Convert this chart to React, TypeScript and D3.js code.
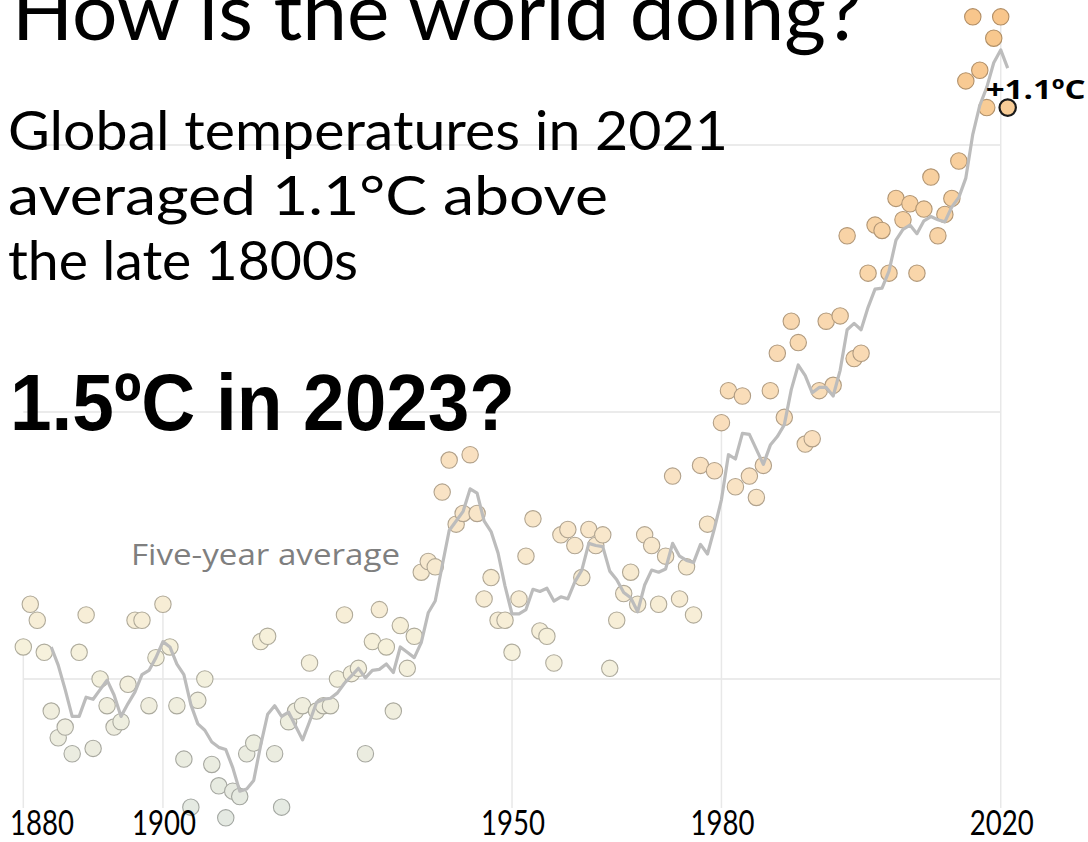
import React from "react";
import * as d3 from "d3";

// Annual global temperature, °C relative to the late 1800s, one value per year from firstYear
const firstYear = 1880;
const anomalies: number[] = [
  0.06, 0.14, 0.11, 0.05, -0.06, -0.11, -0.09, -0.14, 0.05, 0.12,
  -0.13, 0.0, -0.05, -0.09, -0.08, -0.01, 0.11, 0.11, -0.05, 0.04,
  0.14, 0.06, -0.05, -0.15, -0.24, -0.04, 0.0, -0.16, -0.2, -0.26,
  -0.21, -0.22, -0.14, -0.12, 0.07, 0.08, -0.14, -0.24, -0.08, -0.06,
  -0.05, 0.03, -0.06, -0.05, -0.05, 0.0, 0.12, 0.01, 0.02, -0.14,
  0.07, 0.13, 0.06, -0.06, 0.1, 0.02, 0.08, 0.2, 0.22, 0.21,
  0.35, 0.41, 0.29, 0.31, 0.42, 0.31, 0.15, 0.19, 0.11, 0.11,
  0.05, 0.15, 0.23, 0.3, 0.09, 0.08, 0.03, 0.27, 0.28, 0.25,
  0.19, 0.28, 0.25, 0.27, 0.02, 0.11, 0.16, 0.2, 0.14, 0.27,
  0.25, 0.14, 0.23, 0.38, 0.15, 0.21, 0.12, 0.4, 0.29, 0.39,
  0.48, 0.54, 0.36, 0.53, 0.38, 0.34, 0.4, 0.54, 0.61, 0.49,
  0.67, 0.63, 0.44, 0.45, 0.54, 0.67, 0.55, 0.68, 0.83, 0.6,
  0.61, 0.76, 0.85, 0.84, 0.76, 0.9, 0.86, 0.89, 0.76, 0.88,
  0.94, 0.83, 0.87, 0.9, 0.97, 1.12, 1.24, 1.14, 1.07, 1.2,
  1.24, 1.07,
];

const tickYears = [1880, 1900, 1950, 1980, 2020];
const gridValues = [0, 0.5, 1];
const highlightYear = 2021;
const averageWindow = 5;

const titleText = "How is the world doing?";
const summaryLines = [
  "Global temperatures in 2021",
  "averaged 1.1°C above",
  "the late 1800s",
];
const questionText = "1.5ºC in 2023?";
const averageLabel = "Five-year average";

const W = 1088;
const H = 842;

type Row = { year: number; value: number };

const rows: Row[] = anomalies.map((value, i) => ({ year: firstYear + i, value }));

// trailing five-year mean of the annual values
const averageRows: Row[] = rows
  .map((r, i) =>
    i < averageWindow - 1
      ? null
      : { year: r.year, value: d3.mean(rows.slice(i - averageWindow + 1, i + 1), (d) => d.value)! }
  )
  .filter((d): d is Row => d !== null);

const geo = "Lato, 'DejaVu Sans', sans-serif";

export default function App() {
  const x = d3.scaleLinear().domain([1880, 2021]).range([23.3, 1007.7]);
  const y = d3.scaleLinear().domain([0, 1]).range([679, 145]);
  const fill = d3
    .scaleLinear<string>()
    .domain([-0.26, 0.05, 0.4, 1.25])
    .range(["#e4e9e2", "#f6f1dc", "#f9e1c1", "#f8c68b"])
    .interpolate(d3.interpolateRgb)
    .clamp(true);

  const line = d3
    .line<Row>()
    .x((d) => x(d.year))
    .y((d) => y(d.value));

  const bottom = 808;
  const byYear = new Map(rows.map((r) => [r.year, r.value]));
  const hi = rows.find((r) => r.year === highlightYear)!;
  const xMin = x(tickYears[0]);
  const xMax = x(tickYears[tickYears.length - 1]);

  return (
    <svg
      width={W}
      height={H}
      viewBox={`0 0 ${W} ${H}`}
      style={{ position: "absolute", left: 0, top: 0, background: "#fff" }}
    >
      <rect width={W} height={H} fill="#fff" />

      {/* horizontal reference lines */}
      {gridValues.map((v) => (
        <line key={v} x1={xMin} x2={xMax} y1={y(v)} y2={y(v)} stroke="#e5e5e5" strokeWidth={1.5} />
      ))}

      {/* drop lines at labelled years */}
      {tickYears.map((yr) => (
        <line
          key={yr}
          x1={x(yr)}
          x2={x(yr)}
          y1={y(byYear.get(yr)!)}
          y2={bottom}
          stroke="#e8e8e8"
          strokeWidth={1.5}
        />
      ))}

      {/* headline text */}
      <text
        x={12}
        y={40}
        fontFamily={geo}
        fontWeight={400}
        fontSize={80}
        fill="#000"
        textLength={850}
        lengthAdjust="spacingAndGlyphs"
      >
        {titleText}
      </text>
      {summaryLines.map((t, i) => (
        <text
          key={i}
          x={8}
          y={150 + i * 65}
          fontFamily={geo}
          fontWeight={400}
          fontSize={55}
          fill="#000"
          textLength={[720, 600, 350][i]}
          lengthAdjust="spacingAndGlyphs"
        >
          {t}
        </text>
      ))}
      <text
        x={10}
        y={430}
        fontFamily="'Liberation Sans', Arial, sans-serif"
        fontWeight={700}
        fontSize={80}
        fill="#000"
        textLength={505}
        lengthAdjust="spacingAndGlyphs"
      >
        {questionText}
      </text>
      <text
        x={131}
        y={565}
        fontFamily="'Open Sans', sans-serif"
        fontSize={29}
        fill="#7f7f7f"
        textLength={269}
        lengthAdjust="spacingAndGlyphs"
      >
        {averageLabel}
      </text>

      {/* annual values */}
      {rows.map((r) => {
        const f = fill(r.value);
        const isHi = r.year === highlightYear;
        return (
          <circle
            key={r.year}
            cx={x(r.year)}
            cy={y(r.value)}
            r={8.2}
            fill={f}
            stroke={isHi ? "#1a1a1a" : d3.color(f)!.darker(0.95).formatHex()}
            strokeWidth={isHi ? 2.2 : 1.1}
          />
        );
      })}

      {/* five-year average */}
      <path d={line(averageRows) ?? ""} fill="none" stroke="#bcbcbc" strokeWidth={3.2} strokeLinejoin="round" />

      {/* value callout */}
      <text
        x={x(hi.year) - 22}
        y={y(hi.value) - 9}
        fontFamily="'Open Sans', sans-serif"
        fontWeight={700}
        fontSize={27}
        fill="#000"
        textLength={100}
        lengthAdjust="spacingAndGlyphs"
      >
        {`+${d3.format(".1f")(hi.value)}ºC`}
      </text>

      {/* year labels */}
      {tickYears.map((yr) => {
        const half = 32;
        const cx = Math.max(10 + half, x(yr) + 1);
        return (
          <text
            key={yr}
            x={cx}
            y={835}
            textAnchor="middle"
            fontFamily={geo}
            fontWeight={400}
            fontSize={35}
            fill="#000"
            textLength={half * 2}
            lengthAdjust="spacingAndGlyphs"
          >
            {yr}
          </text>
        );
      })}
    </svg>
  );
}
